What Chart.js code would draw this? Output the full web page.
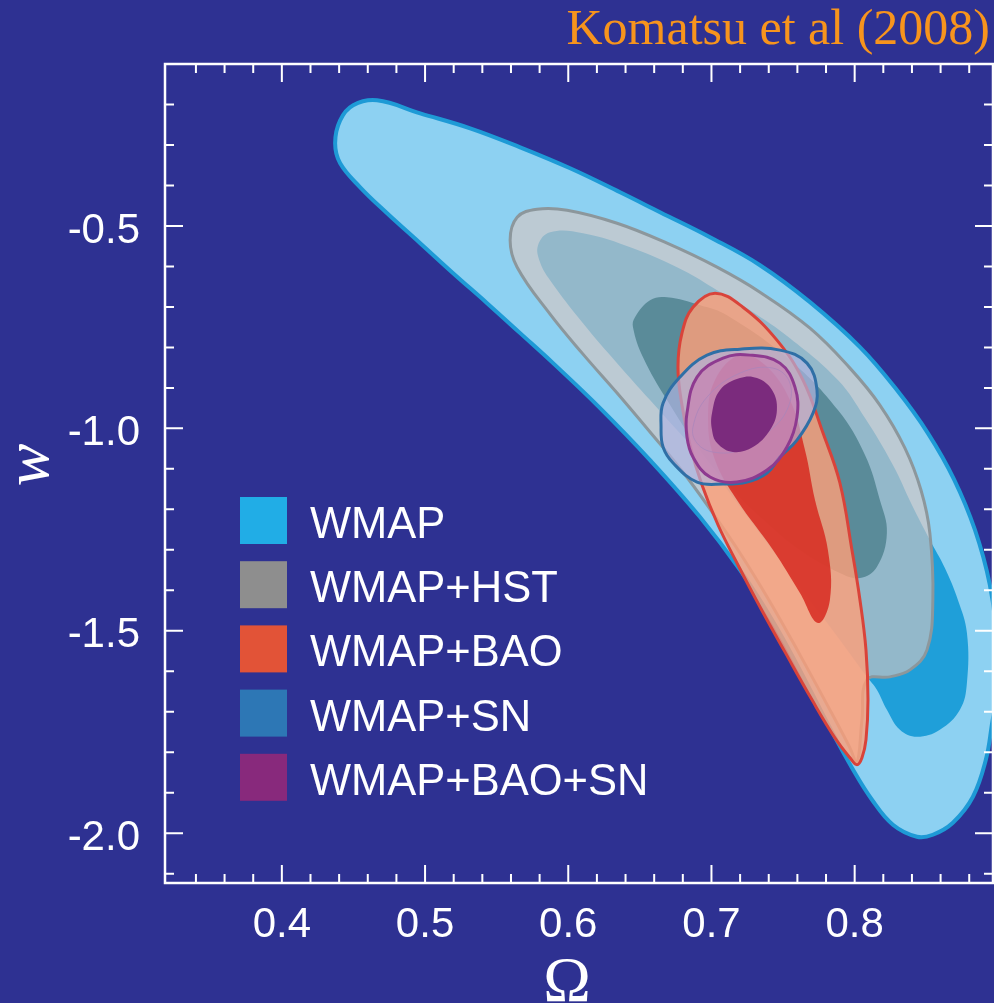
<!DOCTYPE html>
<html><head><meta charset="utf-8">
<script src="https://cdn.jsdelivr.net/npm/chart.js@4/dist/chart.umd.min.js"></script>
<style>html,body{margin:0;padding:0;background:#2e3192;}canvas{display:block}</style>
</head><body>
<canvas id="c" width="994" height="1003"></canvas>
<script>
// ---- axis ticks / labels ----
const xTickValues = [0.4, 0.5, 0.6, 0.7, 0.8];
const yTickValues = [-0.5, -1.0, -1.5, -2.0];
const seriesNames = ['WMAP', 'WMAP+HST', 'WMAP+BAO', 'WMAP+SN', 'WMAP+BAO+SN'];

// ---- contour outlines, [Omega, w] pairs (closed loops) ----
const WMAP_95 = [[0.4372,-0.2959],[0.4407,-0.2392],[0.4498,-0.2021],[0.4665,-0.1898],[0.4966,-0.2219],[0.5315,-0.2589],[0.5664,-0.3058],[0.6013,-0.3576],[0.6362,-0.4169],[0.6641,-0.4662],[0.6990,-0.5279],[0.7339,-0.5970],[0.7688,-0.6883],[0.8037,-0.7994],[0.8295,-0.9055],[0.8511,-1.0116],[0.8693,-1.1252],[0.8840,-1.2510],[0.8944,-1.3868],[0.8993,-1.5225],[0.8993,-1.6459],[0.8958,-1.7323],[0.8916,-1.8187],[0.8826,-1.9100],[0.8686,-1.9742],[0.8546,-2.0038],[0.8435,-2.0087],[0.8267,-1.9791],[0.8121,-1.9174],[0.7981,-1.8384],[0.7827,-1.7397],[0.7653,-1.6212],[0.7444,-1.4855],[0.7199,-1.3498],[0.6920,-1.2190],[0.6571,-1.0783],[0.6222,-0.9499],[0.5894,-0.8389],[0.5664,-0.7648],[0.5433,-0.6908],[0.5196,-0.6168],[0.4966,-0.5427],[0.4735,-0.4687],[0.4547,-0.4045],[0.4407,-0.3453]];
const WMAP_68 = [[0.5789,-0.5477],[0.5873,-0.5156],[0.6103,-0.5180],[0.6452,-0.5551],[0.6801,-0.6094],[0.7039,-0.6587],[0.7269,-0.7081],[0.7548,-0.7772],[0.7883,-0.8808],[0.8072,-0.9746],[0.8267,-1.0906],[0.8400,-1.1893],[0.8525,-1.2757],[0.8630,-1.3448],[0.8721,-1.4238],[0.8784,-1.5052],[0.8784,-1.6286],[0.8735,-1.6953],[0.8595,-1.7446],[0.8435,-1.7619],[0.8316,-1.7446],[0.8225,-1.6953],[0.8155,-1.6459],[0.8086,-1.6138],[0.7897,-1.5225],[0.7688,-1.4238],[0.7478,-1.3251],[0.7269,-1.2264],[0.7060,-1.1276],[0.6920,-1.0659],[0.6759,-1.0042],[0.6571,-0.9302],[0.6341,-0.8389],[0.6103,-0.7402],[0.5873,-0.6340],[0.5803,-0.5896]];
const HST_95 = [[0.5594,-0.5353],[0.5643,-0.4786],[0.5782,-0.4588],[0.5992,-0.4613],[0.6341,-0.4934],[0.6690,-0.5427],[0.7039,-0.6019],[0.7339,-0.6637],[0.7688,-0.7525],[0.7967,-0.8512],[0.8176,-0.9425],[0.8351,-1.0487],[0.8463,-1.1523],[0.8525,-1.2584],[0.8546,-1.4238],[0.8505,-1.5472],[0.8386,-1.5966],[0.8246,-1.6138],[0.8086,-1.6212],[0.8051,-1.7200],[0.8016,-1.8261],[0.7967,-1.7891],[0.7827,-1.6953],[0.7618,-1.5595],[0.7409,-1.4287],[0.7199,-1.3078],[0.7004,-1.2066],[0.6801,-1.1079],[0.6571,-1.0092],[0.6341,-0.9129],[0.6103,-0.8167],[0.5873,-0.7180],[0.5643,-0.6020]];
const HST_68 = [[0.6466,-0.7254],[0.6571,-0.6834],[0.6690,-0.6760],[0.6920,-0.6957],[0.7108,-0.7204],[0.7548,-0.8315],[0.7883,-0.9548],[0.8072,-1.0659],[0.8176,-1.1770],[0.8225,-1.2584],[0.8155,-1.3424],[0.8037,-1.3695],[0.7897,-1.3572],[0.7618,-1.3004],[0.7388,-1.2338],[0.7150,-1.1523],[0.6920,-1.0536],[0.6690,-0.9302],[0.6522,-0.8241],[0.6452,-0.7500]];
const BAO_95 = [[0.7025,-0.6661],[0.7220,-0.7007],[0.7457,-0.7821],[0.7639,-0.8808],[0.7779,-1.0117],[0.7897,-1.1350],[0.7981,-1.3004],[0.8037,-1.4238],[0.8079,-1.5472],[0.8093,-1.6706],[0.8079,-1.7693],[0.8051,-1.8137],[0.8016,-1.8310],[0.7967,-1.8137],[0.7862,-1.7644],[0.7702,-1.6706],[0.7513,-1.5521],[0.7339,-1.4411],[0.7185,-1.3374],[0.7046,-1.2387],[0.6934,-1.1400],[0.6850,-1.0413],[0.6794,-0.9425],[0.6766,-0.8488],[0.6794,-0.7648],[0.6871,-0.7007]];
const BAO_68 = [[0.7199,-0.8191],[0.7374,-0.8438],[0.7548,-0.9302],[0.7653,-1.0536],[0.7723,-1.1770],[0.7813,-1.3004],[0.7827,-1.4238],[0.7744,-1.4806],[0.7618,-1.4065],[0.7430,-1.3004],[0.7178,-1.1770],[0.7025,-1.0783],[0.6976,-0.9796],[0.7025,-0.8808]];
const SN_95 = [[0.6648,-0.9968],[0.6662,-0.9376],[0.6780,-0.8734],[0.6969,-0.8191],[0.7199,-0.8043],[0.7478,-0.8068],[0.7667,-0.8389],[0.7737,-0.9055],[0.7709,-0.9623],[0.7597,-1.0289],[0.7478,-1.0709],[0.7388,-1.1104],[0.7248,-1.1326],[0.7081,-1.1375],[0.6899,-1.1326],[0.6732,-1.0857],[0.6662,-1.0462]];
const SN_68 = [[0.6871,-0.9968],[0.6969,-0.9228],[0.7199,-0.8636],[0.7430,-0.8512],[0.7548,-0.8882],[0.7527,-0.9548],[0.7388,-1.0117],[0.7199,-1.0536],[0.7011,-1.0585],[0.6899,-1.0363]];
const BAOSN_95 = [[0.6829,-0.9623],[0.6899,-0.8734],[0.7081,-0.8265],[0.7269,-0.8191],[0.7478,-0.8389],[0.7583,-0.8981],[0.7597,-0.9722],[0.7527,-1.0462],[0.7388,-1.1030],[0.7178,-1.1326],[0.6990,-1.1202],[0.6871,-1.0709],[0.6829,-1.0215]];
const BAOSN_68 = [[0.7004,-0.9623],[0.7060,-0.9055],[0.7199,-0.8759],[0.7318,-0.8759],[0.7423,-0.9055],[0.7457,-0.9548],[0.7409,-1.0042],[0.7290,-1.0462],[0.7150,-1.0585],[0.7039,-1.0363],[0.7004,-1.0042]];

// ---- styles ----
const BG = '#2e3192';
const legendColors = ['#21ade6', '#8e8e8e', '#e25337', '#2d77b5', '#88297c'];

const layers = [
  {pts: WMAP_95, fill: '#8dd1f2', border: '#1e9ad6', bw: 4},
  {pts: WMAP_68, fill: '#1f9fd9', border: 'rgba(0,0,0,0)', bw: 0},
  {pts: HST_95, fill: 'rgba(216,198,193,0.63)', border: '#8c979c', bw: 3},
  {pts: HST_68, fill: '#5a8b99', border: 'rgba(0,0,0,0)', bw: 0},
  {pts: BAO_95, fill: 'rgba(255,159,120,0.8)', border: '#d9433a', bw: 3},
  {pts: BAO_68, fill: 'rgba(215,45,35,0.88)', border: 'rgba(0,0,0,0)', bw: 0},
  {pts: SN_95, fill: 'rgba(175,180,225,0.68)', border: '#2f6fa6', bw: 3},
  {pts: SN_68, fill: 'rgba(170,170,215,0.2)', border: 'rgba(120,150,205,0.7)', bw: 1},
  {pts: BAOSN_95, fill: 'rgba(200,121,175,0.6)', border: '#8e3a90', bw: 3},
  {pts: BAOSN_68, fill: '#7b2b7d', border: 'rgba(0,0,0,0)', bw: 0}
];

const datasets = layers.map((L, i) => ({
  data: L.pts.map(p => ({x: p[0], y: p[1]})),
  fill: 'shape',
  backgroundColor: L.fill,
  borderColor: L.border,
  borderWidth: L.bw,
  pointRadius: 0,
  tension: 0.4,
  clip: 0,
  order: layers.length - i
}));

// make every contour a smooth closed loop
const closeLoops = {
  id: 'closeLoops',
  afterDatasetsUpdate(chart) {
    chart.getSortedVisibleDatasetMetas().forEach(meta => {
      const el = meta.dataset;
      if (!el) return;
      el._loop = true;
      el._fullLoop = true;
      el._pointsUpdated = false;
      el._path = undefined;
      el._segments = undefined;
    });
  }
};

const decor = {
  id: 'decor',
  beforeDraw(chart) {
    const c = chart.ctx;
    c.save(); c.fillStyle = BG; c.fillRect(0, 0, chart.width, chart.height); c.restore();
  },
  afterDatasetsDraw(chart) {
    const c = chart.ctx, a = chart.chartArea, xs = chart.scales.x, ys = chart.scales.y;
    c.save();
    c.strokeStyle = '#ffffff';
    c.lineWidth = 2;
    c.beginPath();
    for (let k = 0; k <= 60; k++) {
      const px = xs.getPixelForValue(k * 0.02);
      if (px < a.left + 4 || px > a.right - 4) continue;
      const L = (k % 5 === 0) ? 18 : 9;
      c.moveTo(px, a.bottom); c.lineTo(px, a.bottom - L);
      c.moveTo(px, a.top); c.lineTo(px, a.top + L);
    }
    for (let k = 0; k <= 30; k++) {
      const py = ys.getPixelForValue(-k * 0.1);
      if (py < a.top + 4 || py > a.bottom - 4) continue;
      const L = (k % 5 === 0) ? 18 : 9;
      c.moveTo(a.left, py); c.lineTo(a.left + L, py);
      c.moveTo(a.right, py); c.lineTo(a.right - L, py);
    }
    c.stroke();
    c.lineWidth = 2.5;
    c.strokeRect(a.left, a.top, a.right - a.left, a.bottom - a.top);
    c.restore();
  },
  afterDraw(chart) {
    const c = chart.ctx;
    c.save();
    c.fillStyle = '#f7941d';
    c.font = '50px "Liberation Serif", "Times New Roman", serif';
    c.textAlign = 'right'; c.textBaseline = 'alphabetic';
    c.fillText('Komatsu et al (2008)', 990, 44);
    c.fillStyle = '#ffffff';
    c.font = '64px "Liberation Serif", "Times New Roman", serif';
    c.textAlign = 'center';
    c.fillText('\u03A9', 567, 1001);
    c.save();
    c.translate(48, 465);
    c.rotate(-Math.PI / 2);
    c.font = 'italic 64px "Liberation Serif", "Times New Roman", serif';
    c.fillText('w', 0, 0);
    c.restore();
    c.font = '43.5px "Liberation Sans", Arial, sans-serif';
    c.textAlign = 'left';
    seriesNames.forEach((name, i) => {
      const top = 497 + i * 64.2;
      c.fillStyle = legendColors[i];
      c.fillRect(240, top, 47, 47);
      c.fillStyle = '#ffffff';
      c.fillText(name, 310, top + 41);
    });
    c.restore();
  }
};

const tickFont = {family: '"Liberation Sans", Arial, sans-serif', size: 42, lineHeight: 1.2};

new Chart(document.getElementById('c'), {
  type: 'line',
  data: {datasets},
  options: {
    responsive: false,
    animation: false,
    devicePixelRatio: 1,
    layout: {padding: {top: 64, right: 1, left: 0, bottom: 0}},
    elements: {line: {capBezierPoints: false}},
    plugins: {legend: {display: false}, tooltip: {enabled: false}, title: {display: false}},
    scales: {
      x: {
        type: 'linear', min: 0.3184, max: 0.8966,
        grid: {display: false, drawTicks: false},
        border: {display: false},
        afterBuildTicks: s => { s.ticks = xTickValues.map(v => ({value: v})); },
        afterFit: s => { s.height = 120; },
        ticks: {color: '#ffffff', font: tickFont, padding: 17, maxRotation: 0, autoSkip: false,
                callback: v => Number(v).toFixed(1)}
      },
      y: {
        type: 'linear', min: -2.123, max: -0.1,
        grid: {display: false, drawTicks: false},
        border: {display: false},
        afterBuildTicks: s => { s.ticks = yTickValues.map(v => ({value: v})); },
        afterFit: s => { s.width = 165; },
        ticks: {color: '#ffffff', font: tickFont, padding: 25, labelOffset: 5, autoSkip: false,
                callback: v => Number(v).toFixed(1)}
      }
    }
  },
  plugins: [closeLoops, decor]
});
</script>
</body></html>
